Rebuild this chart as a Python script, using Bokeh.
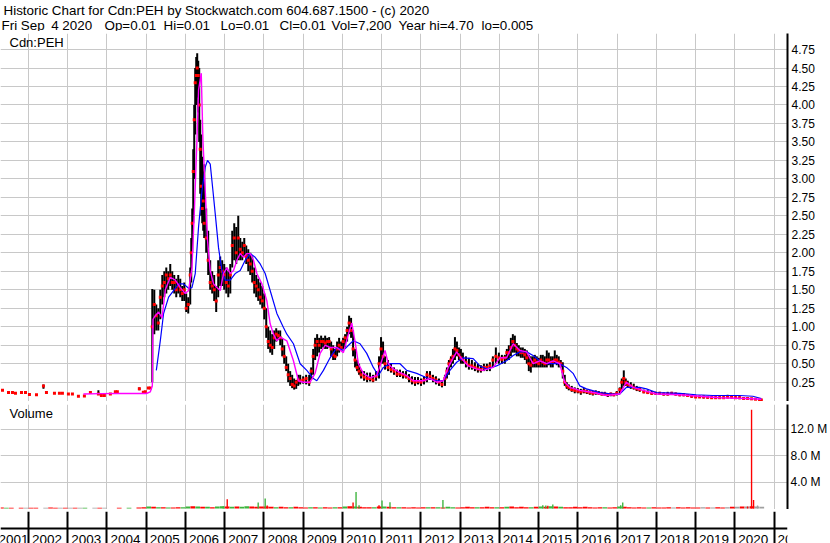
from bokeh.plotting import figure
from bokeh.models import Range1d, LinearAxis, FixedTicker, NumeralTickFormatter, ColumnDataSource, Grid
from bokeh.layouts import column
from bokeh.embed import file_html
from bokeh.resources import INLINE
from bokeh.core.properties import value

# ---------------- texts ----------------
TITLE_1 = "Historic Chart for Cdn:PEH by Stockwatch.com 604.687.1500 - (c) 2020"
TITLE_2_PARTS = ["Fri Sep", "4 2020", "Op=0.01", "Hi=0.01", "Lo=0.01", "Cl=0.01",
                 "Vol=7,200", "Year hi=4.70", "lo=0.005"]
TITLE_2_X = [1, 50.7, 104, 163, 220, 279, 331, 398, 481]   # pixel layout of the header fields
SYMBOL = "Cdn:PEH"
VOLUME_LABEL = "Volume"

# ---------------- axes / ticks ----------------
years = [2001, 2002, 2003, 2004, 2005, 2006, 2007, 2008, 2009, 2010, 2011,
         2012, 2013, 2014, 2015, 2016, 2017, 2018, 2019, 2020, 2021]
year_labels = ["2001", "2002", "2003", "2004", "2005", "2006", "2007", "2008", "2009", "2010", "2011",
               "2012", "2013", "2014", "2015", "2016", "2017", "2018", "2019", "2020", "2021"]
price_ticks = [0.25, 0.5, 0.75, 1.0, 1.25, 1.5, 1.75, 2.0, 2.25, 2.5, 2.75, 3.0,
               3.25, 3.5, 3.75, 4.0, 4.25, 4.5, 4.75]
vol_ticks = [4, 8, 12]
vol_tick_labels = ["4.0 M", "8.0 M", "12.0 M"]

# ---------------- price bars (date as decimal year, high, low, close) ----------------
t = [
    2001.338, 2001.491, 2001.592, 2001.669, 2001.822, 2001.924,
    2002.025, 2002.204, 2002.382, 2002.458, 2002.662, 2002.789, 2002.865,
    2003.018, 2003.120, 2003.273, 2003.425, 2003.578, 2003.782, 2003.858, 2003.934,
    2004.087, 2004.214, 2004.265, 2004.825, 2004.927, 2004.978,
    2005.054, 2005.105, 2005.155, 2005.206, 2005.257, 2005.308, 2005.359, 2005.410, 2005.461, 2005.512,
    2005.562, 2005.613, 2005.664, 2005.715, 2005.766, 2005.817, 2005.868, 2005.919, 2005.970,
    2006.020, 2006.071, 2006.122, 2006.148, 2006.173, 2006.199, 2006.224, 2006.249, 2006.275, 2006.300,
    2006.326, 2006.351, 2006.377, 2006.402, 2006.428, 2006.453, 2006.478, 2006.529, 2006.580, 2006.631,
    2006.682, 2006.733, 2006.784, 2006.835, 2006.886, 2006.937, 2006.988,
    2007.041, 2007.092, 2007.143, 2007.193, 2007.244, 2007.295, 2007.346, 2007.397, 2007.448, 2007.499,
    2007.550, 2007.601, 2007.652, 2007.702, 2007.753, 2007.804, 2007.855, 2007.906, 2007.957,
    2008.008, 2008.059, 2008.109, 2008.160, 2008.211, 2008.262, 2008.313, 2008.364, 2008.415, 2008.466,
    2008.517, 2008.568, 2008.618, 2008.669, 2008.720, 2008.771, 2008.822, 2008.873, 2008.924,
    2009.000, 2009.076, 2009.153, 2009.204, 2009.255, 2009.305, 2009.356, 2009.407, 2009.458, 2009.509,
    2009.560, 2009.611, 2009.662, 2009.713, 2009.764, 2009.814, 2009.865, 2009.916, 2009.967,
    2010.018, 2010.069, 2010.120, 2010.171, 2010.221, 2010.272, 2010.323, 2010.374, 2010.425, 2010.476,
    2010.552, 2010.629, 2010.705, 2010.781, 2010.858, 2010.934, 2010.985,
    2011.036, 2011.087, 2011.163, 2011.239, 2011.316, 2011.392, 2011.468, 2011.545, 2011.621, 2011.697,
    2011.774, 2011.850, 2011.926,
    2012.003, 2012.079, 2012.155, 2012.232, 2012.308, 2012.384, 2012.461, 2012.537, 2012.613, 2012.664,
    2012.715, 2012.766, 2012.817, 2012.868, 2012.919, 2012.970,
    2013.020, 2013.071, 2013.148, 2013.224, 2013.300, 2013.377, 2013.453, 2013.529, 2013.606, 2013.682,
    2013.758, 2013.835, 2013.911, 2013.988,
    2014.064, 2014.140, 2014.191, 2014.242, 2014.293, 2014.344, 2014.395, 2014.445, 2014.496, 2014.547,
    2014.598, 2014.649, 2014.700, 2014.751, 2014.802, 2014.853, 2014.904, 2014.954,
    2015.005, 2015.056, 2015.107, 2015.158, 2015.209, 2015.260, 2015.311, 2015.361, 2015.412, 2015.463,
    2015.514, 2015.565, 2015.616, 2015.667, 2015.718, 2015.769, 2015.845, 2015.921,
    2016.000, 2016.076, 2016.153, 2016.229, 2016.305, 2016.382, 2016.458, 2016.534, 2016.611, 2016.687,
    2016.764, 2016.840, 2016.916, 2016.992,
    2017.069, 2017.120, 2017.171, 2017.221, 2017.272, 2017.349, 2017.425, 2017.501, 2017.578, 2017.680,
    2017.781, 2017.883, 2017.985,
    2018.087, 2018.188, 2018.290, 2018.392, 2018.494, 2018.596, 2018.697, 2018.799, 2018.901,
    2019.003, 2019.104, 2019.206, 2019.308, 2019.410, 2019.512, 2019.613, 2019.715, 2019.817, 2019.919,
    2020.020, 2020.122, 2020.224, 2020.326, 2020.428, 2020.529, 2020.631, 2020.676,
]
hi = [
    0.14, 0.11, 0.11, 0.10, 0.11, 0.11,
    0.085, 0.08, 0.22, 0.11, 0.10, 0.10, 0.10,
    0.09, 0.09, 0.06, 0.065, 0.11, 0.14, 0.07, 0.07,
    0.09, 0.12, 0.12, 0.18, 0.115, 0.12,
    0.17, 0.17, 1.51, 1.50, 1.30, 1.25, 1.50, 1.70, 1.75, 1.80,
    1.75, 1.85, 1.75, 1.70, 1.65, 1.70, 1.65, 1.55, 1.60,
    1.45, 1.40, 1.80, 2.20, 2.60, 3.40, 4.00, 4.50, 4.65, 4.70,
    4.60, 4.50, 3.80, 3.60, 3.30, 3.10, 3.20, 2.60, 2.30, 1.90,
    1.75, 1.70, 1.55, 1.90, 1.95, 1.90, 1.85,
    1.80, 1.75, 1.85, 2.30, 2.40, 2.35, 2.50, 2.20, 2.15, 2.20,
    2.10, 2.05, 2.00, 1.95, 1.80, 1.70, 1.65, 1.60, 1.55,
    1.45, 1.25, 1.00, 0.95, 0.90, 0.95, 0.98, 0.95, 0.95, 0.85,
    0.75, 0.60, 0.50, 0.40, 0.35, 0.30, 0.28, 0.35, 0.35,
    0.33, 0.35, 0.35, 0.45, 0.70, 0.85, 0.90, 0.85, 0.88, 0.85,
    0.88, 0.85, 0.86, 0.80, 0.75, 0.70, 0.80, 0.85, 0.80,
    0.85, 0.90, 1.00, 1.15, 1.12, 0.95, 0.70, 0.55, 0.50, 0.42,
    0.40, 0.38, 0.38, 0.35, 0.40, 0.60, 0.86,
    0.80, 0.60, 0.55, 0.50, 0.45, 0.42, 0.42, 0.40, 0.40, 0.36,
    0.33, 0.32, 0.32,
    0.30, 0.33, 0.40, 0.40, 0.35, 0.33, 0.30, 0.28, 0.35, 0.45,
    0.55, 0.60, 0.70, 0.86, 0.80, 0.72,
    0.70, 0.65, 0.60, 0.58, 0.55, 0.52, 0.50, 0.48, 0.50, 0.50,
    0.52, 0.60, 0.72, 0.65,
    0.62, 0.62, 0.70, 0.75, 0.85, 0.90, 0.88, 0.78, 0.75, 0.72,
    0.72, 0.70, 0.68, 0.62, 0.60, 0.60, 0.62, 0.60,
    0.58, 0.62, 0.62, 0.60, 0.68, 0.65, 0.60, 0.60, 0.68, 0.62,
    0.60, 0.55, 0.52, 0.35, 0.25, 0.22, 0.20, 0.18,
    0.17, 0.16, 0.17, 0.15, 0.14, 0.13, 0.14, 0.13, 0.12, 0.12,
    0.10, 0.11, 0.10, 0.13,
    0.18, 0.30, 0.41, 0.30, 0.27, 0.25, 0.23, 0.20, 0.18, 0.15,
    0.14, 0.13, 0.12,
    0.12, 0.11, 0.12, 0.12, 0.11, 0.10, 0.10, 0.09, 0.08,
    0.07, 0.07, 0.07, 0.06, 0.06, 0.06, 0.06, 0.06, 0.08, 0.07,
    0.06, 0.06, 0.05, 0.05, 0.04, 0.03, 0.02, 0.01,
]
lo = [
    0.14, 0.11, 0.11, 0.10, 0.11, 0.11,
    0.085, 0.08, 0.16, 0.11, 0.10, 0.10, 0.10,
    0.09, 0.09, 0.06, 0.065, 0.11, 0.08, 0.07, 0.07,
    0.09, 0.12, 0.12, 0.14, 0.115, 0.12,
    0.17, 0.17, 0.25, 0.90, 0.95, 0.95, 1.10, 1.30, 1.40, 1.45,
    1.50, 1.55, 1.50, 1.45, 1.40, 1.45, 1.40, 1.35, 1.35,
    1.20, 1.18, 1.30, 1.60, 2.00, 2.40, 3.00, 3.60, 4.00, 4.10,
    3.90, 3.50, 2.80, 2.50, 2.40, 2.30, 2.20, 2.00, 1.70, 1.50,
    1.45, 1.35, 1.20, 1.40, 1.55, 1.55, 1.50,
    1.45, 1.40, 1.45, 1.80, 1.90, 1.85, 1.90, 1.90, 1.90, 1.95,
    1.85, 1.75, 1.70, 1.60, 1.45, 1.40, 1.35, 1.30, 1.25,
    1.10, 0.85, 0.70, 0.65, 0.62, 0.70, 0.80, 0.82, 0.75, 0.60,
    0.50, 0.40, 0.25, 0.20, 0.17, 0.15, 0.16, 0.20, 0.22,
    0.23, 0.22, 0.20, 0.28, 0.35, 0.55, 0.60, 0.65, 0.70, 0.72,
    0.70, 0.70, 0.72, 0.60, 0.55, 0.55, 0.60, 0.65, 0.68,
    0.70, 0.72, 0.80, 0.90, 0.85, 0.60, 0.45, 0.40, 0.35, 0.30,
    0.27, 0.25, 0.26, 0.25, 0.27, 0.30, 0.50,
    0.50, 0.42, 0.40, 0.38, 0.35, 0.32, 0.32, 0.30, 0.30, 0.25,
    0.22, 0.20, 0.22,
    0.20, 0.22, 0.25, 0.28, 0.25, 0.22, 0.20, 0.18, 0.20, 0.30,
    0.35, 0.45, 0.50, 0.55, 0.60, 0.55,
    0.50, 0.50, 0.45, 0.42, 0.42, 0.40, 0.38, 0.38, 0.40, 0.40,
    0.40, 0.45, 0.50, 0.50,
    0.50, 0.50, 0.55, 0.55, 0.60, 0.65, 0.65, 0.60, 0.60, 0.58,
    0.58, 0.55, 0.50, 0.40, 0.38, 0.45, 0.45, 0.45,
    0.45, 0.45, 0.45, 0.45, 0.45, 0.48, 0.45, 0.45, 0.50, 0.48,
    0.45, 0.45, 0.30, 0.20, 0.16, 0.14, 0.12, 0.10,
    0.10, 0.08, 0.10, 0.09, 0.08, 0.07, 0.08, 0.08, 0.07, 0.07,
    0.05, 0.06, 0.06, 0.07,
    0.10, 0.15, 0.20, 0.20, 0.18, 0.16, 0.15, 0.13, 0.12, 0.10,
    0.09, 0.08, 0.08,
    0.08, 0.07, 0.07, 0.08, 0.07, 0.06, 0.06, 0.05, 0.04,
    0.04, 0.04, 0.03, 0.03, 0.03, 0.03, 0.03, 0.03, 0.03, 0.03,
    0.03, 0.02, 0.02, 0.02, 0.015, 0.01, 0.005, 0.01,
]
cl = [
    0.14, 0.11, 0.11, 0.10, 0.11, 0.11,
    0.085, 0.08, 0.20, 0.11, 0.10, 0.10, 0.10,
    0.09, 0.09, 0.06, 0.065, 0.11, 0.09, 0.07, 0.07,
    0.09, 0.12, 0.12, 0.16, 0.115, 0.12,
    0.17, 0.17, 1.00, 1.30, 1.15, 1.05, 1.40, 1.55, 1.60, 1.70,
    1.65, 1.70, 1.60, 1.60, 1.50, 1.55, 1.50, 1.45, 1.50,
    1.25, 1.30, 1.70, 2.00, 2.40, 3.10, 3.80, 4.30, 4.40, 4.50,
    4.40, 4.00, 3.40, 2.90, 2.60, 2.70, 2.40, 2.20, 1.90, 1.60,
    1.55, 1.50, 1.35, 1.70, 1.80, 1.75, 1.70,
    1.60, 1.55, 1.70, 2.10, 2.20, 2.00, 2.20, 2.05, 2.00, 2.10,
    1.95, 1.90, 1.85, 1.75, 1.60, 1.55, 1.50, 1.40, 1.35,
    1.25, 1.00, 0.80, 0.75, 0.72, 0.85, 0.90, 0.88, 0.85, 0.70,
    0.60, 0.45, 0.35, 0.30, 0.22, 0.20, 0.25, 0.28, 0.27,
    0.28, 0.30, 0.25, 0.40, 0.60, 0.75, 0.80, 0.75, 0.80, 0.80,
    0.78, 0.80, 0.80, 0.70, 0.62, 0.60, 0.70, 0.75, 0.72,
    0.80, 0.85, 0.95, 1.05, 0.95, 0.70, 0.55, 0.45, 0.40, 0.35,
    0.32, 0.30, 0.30, 0.28, 0.33, 0.50, 0.70,
    0.60, 0.50, 0.45, 0.42, 0.40, 0.36, 0.36, 0.35, 0.33, 0.30,
    0.27, 0.25, 0.26,
    0.25, 0.28, 0.35, 0.33, 0.30, 0.28, 0.25, 0.22, 0.30, 0.40,
    0.50, 0.55, 0.60, 0.70, 0.68, 0.62,
    0.58, 0.56, 0.52, 0.48, 0.47, 0.45, 0.43, 0.42, 0.45, 0.45,
    0.47, 0.55, 0.60, 0.58,
    0.56, 0.58, 0.65, 0.65, 0.72, 0.80, 0.75, 0.70, 0.68, 0.65,
    0.65, 0.62, 0.58, 0.50, 0.48, 0.52, 0.55, 0.52,
    0.50, 0.55, 0.52, 0.50, 0.55, 0.55, 0.52, 0.52, 0.55, 0.55,
    0.52, 0.50, 0.40, 0.25, 0.20, 0.18, 0.15, 0.14,
    0.13, 0.12, 0.13, 0.12, 0.11, 0.10, 0.11, 0.10, 0.09, 0.09,
    0.08, 0.09, 0.08, 0.10,
    0.15, 0.25, 0.30, 0.25, 0.22, 0.20, 0.18, 0.16, 0.15, 0.12,
    0.11, 0.10, 0.10,
    0.10, 0.09, 0.09, 0.10, 0.09, 0.08, 0.08, 0.07, 0.06,
    0.05, 0.05, 0.05, 0.045, 0.04, 0.04, 0.04, 0.04, 0.05, 0.05,
    0.04, 0.04, 0.03, 0.03, 0.025, 0.02, 0.01, 0.01,
]

# ---------------- moving averages ----------------
ma_short_t = [2003.400, 2003.832, 2004.341, 2005.003, 2005.105, 2005.156, 2005.173, 2005.232, 2005.316,
              2005.403, 2005.487, 2005.614, 2005.741, 2005.868, 2005.996, 2006.080, 2006.166, 2006.232,
              2006.293, 2006.334, 2006.403, 2006.446, 2006.505, 2006.563, 2006.632, 2006.716, 2006.802,
              2006.886, 2006.970, 2007.057, 2007.141, 2007.225, 2007.311, 2007.396, 2007.479, 2007.566,
              2007.650, 2007.734, 2007.820, 2007.948, 2008.075, 2008.159, 2008.243, 2008.330, 2008.414,
              2008.584, 2008.752, 2008.879, 2009.007, 2009.177, 2009.304, 2009.432, 2009.559, 2009.686,
              2009.857, 2010.025, 2010.152, 2010.239, 2010.323, 2010.407, 2010.534, 2010.704, 2010.875,
              2011.002, 2011.086, 2011.170, 2011.297, 2011.468, 2011.638, 2011.806, 2012.061, 2012.231,
              2012.402, 2012.570, 2012.697, 2012.824, 2012.911, 2013.038, 2013.206, 2013.420, 2013.588,
              2013.843, 2014.013, 2014.184, 2014.352, 2014.522, 2014.693, 2014.861, 2015.031, 2015.202,
              2015.370, 2015.540, 2015.667, 2015.795, 2016.049, 2016.388, 2016.729, 2017.067, 2017.238,
              2017.406, 2017.660, 2018.001, 2018.594, 2019.103, 2019.612, 2020.292, 2020.676]
ma_short_v = [0.09, 0.095, 0.097, 0.097, 0.12, 0.2, 1.1, 1.15, 1.2,
              1.12, 1.5, 1.67, 1.63, 1.53, 1.45, 1.49, 1.8, 2.62,
              3.52, 4.2, 4.43, 3.52, 2.84, 2.17, 1.76, 1.58, 1.53,
              1.49, 1.72, 1.8, 1.72, 1.76, 1.9, 1.99, 1.94, 1.99,
              1.99, 1.9, 1.72, 1.58, 1.35, 1.04, 0.9, 0.81, 0.86,
              0.81, 0.54, 0.27, 0.25, 0.25, 0.37, 0.64, 0.75, 0.72,
              0.72, 0.65, 0.9, 1.05, 0.8, 0.5, 0.37, 0.31, 0.34,
              0.54, 0.68, 0.5, 0.43, 0.38, 0.34, 0.27, 0.27, 0.3,
              0.25, 0.27, 0.45, 0.58, 0.66, 0.57, 0.47, 0.43, 0.41,
              0.45, 0.58, 0.58, 0.77, 0.68, 0.66, 0.5, 0.54, 0.5,
              0.54, 0.5, 0.25, 0.18, 0.14, 0.11, 0.07, 0.09, 0.25,
              0.18, 0.14, 0.09, 0.08, 0.06, 0.04, 0.03, 0.02]
ma_long_t = [2005.258, 2005.359, 2005.443, 2005.571, 2005.698, 2005.825, 2005.952, 2006.080, 2006.166,
             2006.250, 2006.334, 2006.421, 2006.505, 2006.563, 2006.632, 2006.701, 2006.759, 2006.843,
             2006.930, 2007.014, 2007.141, 2007.268, 2007.396, 2007.523, 2007.650, 2007.777, 2007.905,
             2008.032, 2008.159, 2008.330, 2008.498, 2008.584, 2008.752, 2008.923, 2009.093, 2009.261,
             2009.348, 2009.516, 2009.686, 2009.857, 2010.025, 2010.195, 2010.279, 2010.450, 2010.620,
             2010.788, 2010.916, 2011.043, 2011.213, 2011.468, 2011.638, 2011.893, 2012.147, 2012.402,
             2012.570, 2012.740, 2012.911, 2013.079, 2013.333, 2013.504, 2013.675, 2013.929, 2014.184,
             2014.352, 2014.522, 2014.693, 2014.861, 2015.031, 2015.202, 2015.540, 2015.711, 2015.879,
             2016.049, 2016.220, 2016.558, 2016.897, 2017.067, 2017.238, 2017.576, 2017.747, 2018.001,
             2018.594, 2019.019, 2019.442, 2020.122, 2020.460, 2020.676]
ma_long_v = [0.41, 0.81, 1.18, 1.4, 1.49, 1.58, 1.58, 1.52, 1.53,
             1.72, 2.35, 2.84, 3.16, 3.25, 3.2, 2.84, 2.53, 2.07,
             1.76, 1.63, 1.63, 1.72, 1.76, 1.9, 1.99, 1.94, 1.85,
             1.72, 1.49, 1.18, 0.99, 0.9, 0.77, 0.5, 0.41, 0.3,
             0.27, 0.41, 0.58, 0.72, 0.68, 0.77, 0.81, 0.77, 0.64,
             0.45, 0.34, 0.45, 0.5, 0.5, 0.41, 0.37, 0.31, 0.27,
             0.27, 0.41, 0.52, 0.58, 0.57, 0.47, 0.43, 0.47, 0.54,
             0.61, 0.66, 0.66, 0.61, 0.54, 0.5, 0.5, 0.45, 0.37,
             0.2, 0.16, 0.11, 0.09, 0.09, 0.18, 0.18, 0.16, 0.11,
             0.1, 0.08, 0.07, 0.07, 0.06, 0.03]

# ---------------- volume (millions of shares) ----------------
# background volume, one value per eighth of a year starting 2001-Q2
vol_first = 2001.3125
vol_step = 0.125
vol_m = [0.15, 0.1, 0.12, 0.0, 0.1, 0.12,
         0.12, 0.1, 0.0, 0.12, 0.15, 0.1, 0.12, 0.1,
         0.12, 0.1, 0.12, 0.1, 0.0, 0.12, 0.1, 0.12,
         0.0, 0.0, 0.1, 0.0, 0.1, 0.0, 0.15, 0.2,
         0.3, 0.25, 0.2, 0.2, 0.15, 0.15, 0.2, 0.2,
         0.3, 0.35, 0.3, 0.25, 0.25, 0.2, 0.3, 0.35,
         0.3, 0.25, 0.3, 0.25, 0.35, 0.3, 0.25, 0.3,
         0.3, 0.25, 0.2, 0.25, 0.2, 0.2, 0.25, 0.2,
         0.15, 0.2, 0.2, 0.15, 0.2, 0.15, 0.2, 0.2,
         0.3, 0.35, 0.3, 0.25, 0.2, 0.2, 0.2, 0.3,
         0.3, 0.25, 0.2, 0.2, 0.2, 0.15, 0.2, 0.15,
         0.2, 0.2, 0.2, 0.2, 0.15, 0.25, 0.2, 0.15,
         0.2, 0.25, 0.2, 0.2, 0.2, 0.25, 0.2, 0.2,
         0.2, 0.25, 0.3, 0.2, 0.25, 0.2, 0.2, 0.25,
         0.3, 0.25, 0.35, 0.3, 0.25, 0.2, 0.2, 0.25,
         0.2, 0.25, 0.2, 0.15, 0.2, 0.2, 0.15, 0.2,
         0.3, 0.25, 0.2, 0.15, 0.2, 0.15, 0.15, 0.2,
         0.15, 0.15, 0.2, 0.15, 0.2, 0.15, 0.2, 0.15,
         0.15, 0.2, 0.15, 0.15, 0.2, 0.15, 0.2, 0.25,
         0.25, 0.3, 0.3, 0.35, 0.3, 0.25]
vol_dir = ["r", "g", "r", "n", "r", "n",
           "r", "r", "n", "n", "r", "r", "n", "r",
           "n", "r", "n", "g", "n", "n", "r", "n",
           "n", "n", "r", "n", "g", "n", "r", "r",
           "g", "r", "g", "r", "g", "r", "r", "g",
           "g", "r", "g", "r", "g", "r", "g", "g",
           "r", "g", "r", "g", "g", "r", "r", "r",
           "r", "r", "g", "r", "r", "g", "r", "r",
           "r", "g", "r", "g", "r", "r", "g", "r",
           "g", "r", "g", "r", "r", "r", "g", "r",
           "g", "r", "r", "g", "r", "r", "r", "r",
           "r", "g", "r", "g", "r", "g", "g", "r",
           "r", "r", "r", "g", "r", "r", "r", "g",
           "r", "g", "r", "r", "r", "r", "g", "r",
           "g", "r", "g", "r", "g", "r", "r", "r",
           "r", "r", "r", "r", "r", "g", "r", "r",
           "g", "r", "r", "r", "r", "r", "g", "r",
           "r", "r", "r", "n", "r", "r", "r", "r",
           "r", "n", "r", "n", "r", "r", "n", "r",
           "n", "r", "n", "r", "n", "n"]
# single-day volume spikes
spike_t = [2006.963, 2007.065, 2007.854, 2008.032, 2008.083, 2010.272, 2010.348, 2010.424, 2010.933,
           2011.010, 2011.213, 2012.562, 2015.107, 2015.184, 2015.235, 2015.362, 2017.093, 2017.144,
           2020.325, 2020.427, 2020.478, 2020.580]
spike_m = [0.35, 1.4, 0.9, 1.5, 0.45, 0.9, 2.5, 0.5, 0.5,
           1.2, 0.95, 1.3, 0.5, 0.45, 0.4, 0.6, 0.5, 0.9,
           0.3, 14.9, 1.3, 0.45]
spike_dir = ["g", "r", "g", "g", "r", "r", "g", "g", "r",
             "g", "g", "g", "g", "g", "r", "g", "g", "g",
             "r", "r", "r", "n"]

assert len(t) == len(hi) == len(lo) == len(cl)
assert len(ma_short_t) == len(ma_short_v) and len(ma_long_t) == len(ma_long_v)
assert len(vol_m) == len(vol_dir) and len(spike_t) == len(spike_m) == len(spike_dir)

# ---------------- styling / layout ----------------
FONT = "Liberation Sans"
GRID = "#c8c8c8"
DIR_COLOR = {"g": "#3cb43c", "r": "#ff0000", "n": "#a0a0a0"}
W = 830
RIGHT = 41
X_START, X_END = 2001.287, 2021.343
PRICE_LO, PRICE_HI = -0.011, 4.967
VOL_LO, VOL_HI = -0.151, 15.70

xr = Range1d(X_START, X_END)
COMMON = dict(toolbar_location=None, output_backend="svg",
              x_axis_location=None, y_axis_location=None)


def panel(height, y_range):
    f = figure(width=W, height=height, x_range=xr, y_range=y_range,
               min_border_left=0, min_border_right=RIGHT, min_border_top=0, min_border_bottom=0,
               outline_line_color=None, background_fill_color="white", border_fill_color="white",
               **COMMON)
    f.grid.visible = False
    return f


def rule(height, full_width, top=0):
    """a solid black separator line, either across the whole page or across the plot frame only"""
    if full_width:
        f = figure(width=W, height=height, min_border=0, frame_align=False,
                   background_fill_color="black", border_fill_color="black",
                   outline_line_color=None, **COMMON)
    else:
        f = figure(width=W, height=height, min_border_left=0, min_border_right=RIGHT,
                   min_border_top=top, min_border_bottom=0,
                   background_fill_color="black", border_fill_color="white",
                   outline_line_color=None, **COMMON)
    f.grid.visible = False
    return f


def add_grid(f, dim, ticks, color, width):
    f.add_layout(Grid(dimension=dim, ticker=FixedTicker(ticks=ticks),
                      grid_line_color=color, grid_line_width=width), "center")


def right_axis(f, ticks, standoff, fmt=None, overrides=None):
    ax = LinearAxis(ticker=FixedTicker(ticks=ticks),
                    axis_line_color="black", axis_line_width=2,
                    major_tick_in=0, major_tick_out=0, minor_tick_in=0, minor_tick_out=0,
                    major_label_text_font=FONT, major_label_text_font_size="12px",
                    major_label_text_color="black", major_label_standoff=standoff)
    if fmt is not None:
        ax.formatter = fmt
    if overrides is not None:
        ax.major_label_overrides = overrides
    f.add_layout(ax, "right")


# ---- header ----
pt = figure(width=W, height=31, x_range=Range1d(0, W), y_range=Range1d(31, 0),
            min_border=0, frame_align=False, outline_line_color=None, **COMMON)
pt.grid.visible = False
pt.text(x=[3], y=[9.6], text=[TITLE_1], text_font=value(FONT),
        text_font_size="13.4px", text_color="black", text_baseline="alphabetic", text_align="left")
pt.text(x=TITLE_2_X, y=[24.6] * len(TITLE_2_X), text=TITLE_2_PARTS, text_font=value(FONT),
        text_font_size="13.4px", text_color="black", text_baseline="alphabetic", text_align="left")

# ---- price panel ----
pp = panel(368, Range1d(PRICE_LO, PRICE_HI))
add_grid(pp, 0, years[1:], GRID, 1)
add_grid(pp, 1, price_ticks, GRID, 1)
add_grid(pp, 0, [X_START], "black", 4)
src = ColumnDataSource(dict(t=t, hi=hi, lo=lo, cl=cl))
pp.segment(x0="t", y0="lo", x1="t", y1="hi", source=src, line_color="black", line_width=2)
pp.scatter(x="t", y="cl", source=src, marker="square", size=3, fill_color="#ff0000", line_color=None)
pp.line(ma_long_t, ma_long_v, line_color="#0000ff", line_width=1.2)
pp.line(ma_short_t, ma_short_v, line_color="#ff00ff", line_width=1.4)
pp.text(x=[X_START], y=[PRICE_HI], text=[SYMBOL], x_offset=9, y_offset=9,
        text_font=value(FONT), text_font_size="13px", text_color="black",
        text_baseline="alphabetic", text_align="left")
right_axis(pp, price_ticks, 4, fmt=NumeralTickFormatter(format="0.00"))

# ---- volume panel ----
pv = panel(105, Range1d(VOL_LO, VOL_HI))
add_grid(pv, 0, years[1:], GRID, 1)
add_grid(pv, 1, vol_ticks, GRID, 1)
add_grid(pv, 0, [X_START], "black", 4)
vol_t = [vol_first + i * vol_step for i in range(len(vol_m))]
src_v = ColumnDataSource(dict(t=vol_t, m=vol_m, c=[DIR_COLOR[d] for d in vol_dir]))
pv.vbar(x="t", top="m", bottom=0, width=0.12, fill_color="c", line_color=None, source=src_v)
src_s = ColumnDataSource(dict(t=spike_t, m=spike_m, c=[DIR_COLOR[d] for d in spike_dir]))
pv.vbar(x="t", top="m", bottom=0, width=0.035, fill_color="c", line_color=None, source=src_s)
pv.text(x=[X_START], y=[VOL_HI], text=[VOLUME_LABEL], x_offset=9, y_offset=9,
        text_font=value(FONT), text_font_size="13px", text_color="black",
        text_baseline="alphabetic", text_align="left")
right_axis(pv, vol_ticks, 3, overrides={v: s for v, s in zip(vol_ticks, vol_tick_labels)})

# ---- year band ----
pb = panel(32, Range1d(0, 32))
add_grid(pb, 0, years[1:] + [X_START, X_END], "black", 2)
add_grid(pb, 0, [X_START, X_END], "black", 4)
add_grid(pb, 1, [15], "black", 2)
label_x = [max(y, X_START) for y in years]
label_dx = [-2] + [3.5] * (len(years) - 1)
src_y = ColumnDataSource(dict(x=label_x, dx=label_dx, txt=year_labels))
pb.text(x="x", y=4, text="txt", x_offset="dx", source=src_y,
        text_font=value(FONT), text_font_size="13.5px", text_color="black",
        text_baseline="alphabetic", text_align="left")

layout = column(pt, rule(2, True), pp, rule(1, True), rule(2, False, top=1), pv,
                rule(2, False), pb, spacing=0)
open("out.html", "w").write(file_html(layout, INLINE))
